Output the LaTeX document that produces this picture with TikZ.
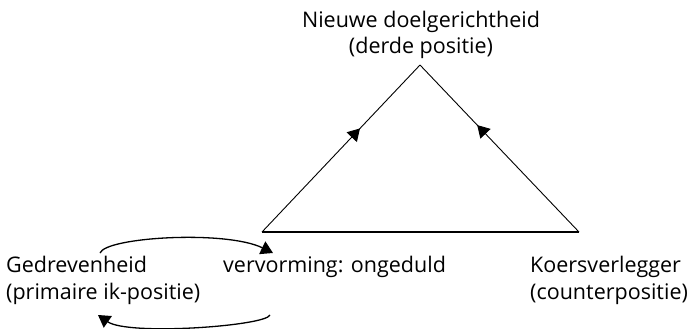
\documentclass[tikz,border=0pt]{standalone}
\usepackage{fontspec}
\setmainfont{Open Sans}
\usetikzlibrary{arrows.meta,decorations.markings}
\newcommand{\lblfont}{\fontsize{21.5pt}{26.5pt}\selectfont}
\tikzset{
  lbl/.style={inner sep=0pt, font=\lblfont},
  edgeline/.style={line width=0.9pt},
  midarrow/.style={postaction={decorate},decoration={markings,
     mark=at position #1 with {\arrow{Triangle[length=12pt,width=14pt]}}}},
  looparrow/.style={line width=1.3pt,-{Triangle[length=12pt,width=14pt]}}
}
\begin{document}
\begin{tikzpicture}[x=1pt,y=-1pt]
\useasboundingbox (0,0) rectangle (696,329);
% corners
\coordinate (A) at (420,65);
\coordinate (BL) at (262,232);
\coordinate (BR) at (579,232);
% labels (anchored at the baseline of the last line)
\node[lbl, align=center, anchor=base] (top) at (421,54) {Nieuwe doelgerichtheid\\(derde positie)};
\node[lbl, align=left, anchor=base west] (ged) at (6,299) {Gedrevenheid\\(primaire ik-positie)};
\node[lbl, anchor=base west] (verv) at (223,272) {vervorming: ongeduld};
\node[lbl, align=left, anchor=base west] (koers) at (530,299) {Koersverlegger\\(counterpositie)};
% loop endpoints
\coordinate (l1s) at (100,253);
\coordinate (l1e) at (273,253);
\coordinate (l2s) at (270,315);
\coordinate (l2e) at (98,315);
% triangle
\draw[edgeline, midarrow=0.62] (BL) -- (A);
\draw[edgeline, midarrow=0.64] (BR) -- (A);
\draw[line width=1.1pt] (BL) -- (BR);
% loops
\draw[looparrow] (l1s) .. controls (106,237) and (226,230) .. (l1e);
\draw[looparrow] (l2s) .. controls (266,326) and (128,336) .. (l2e);
\end{tikzpicture}
\end{document}
